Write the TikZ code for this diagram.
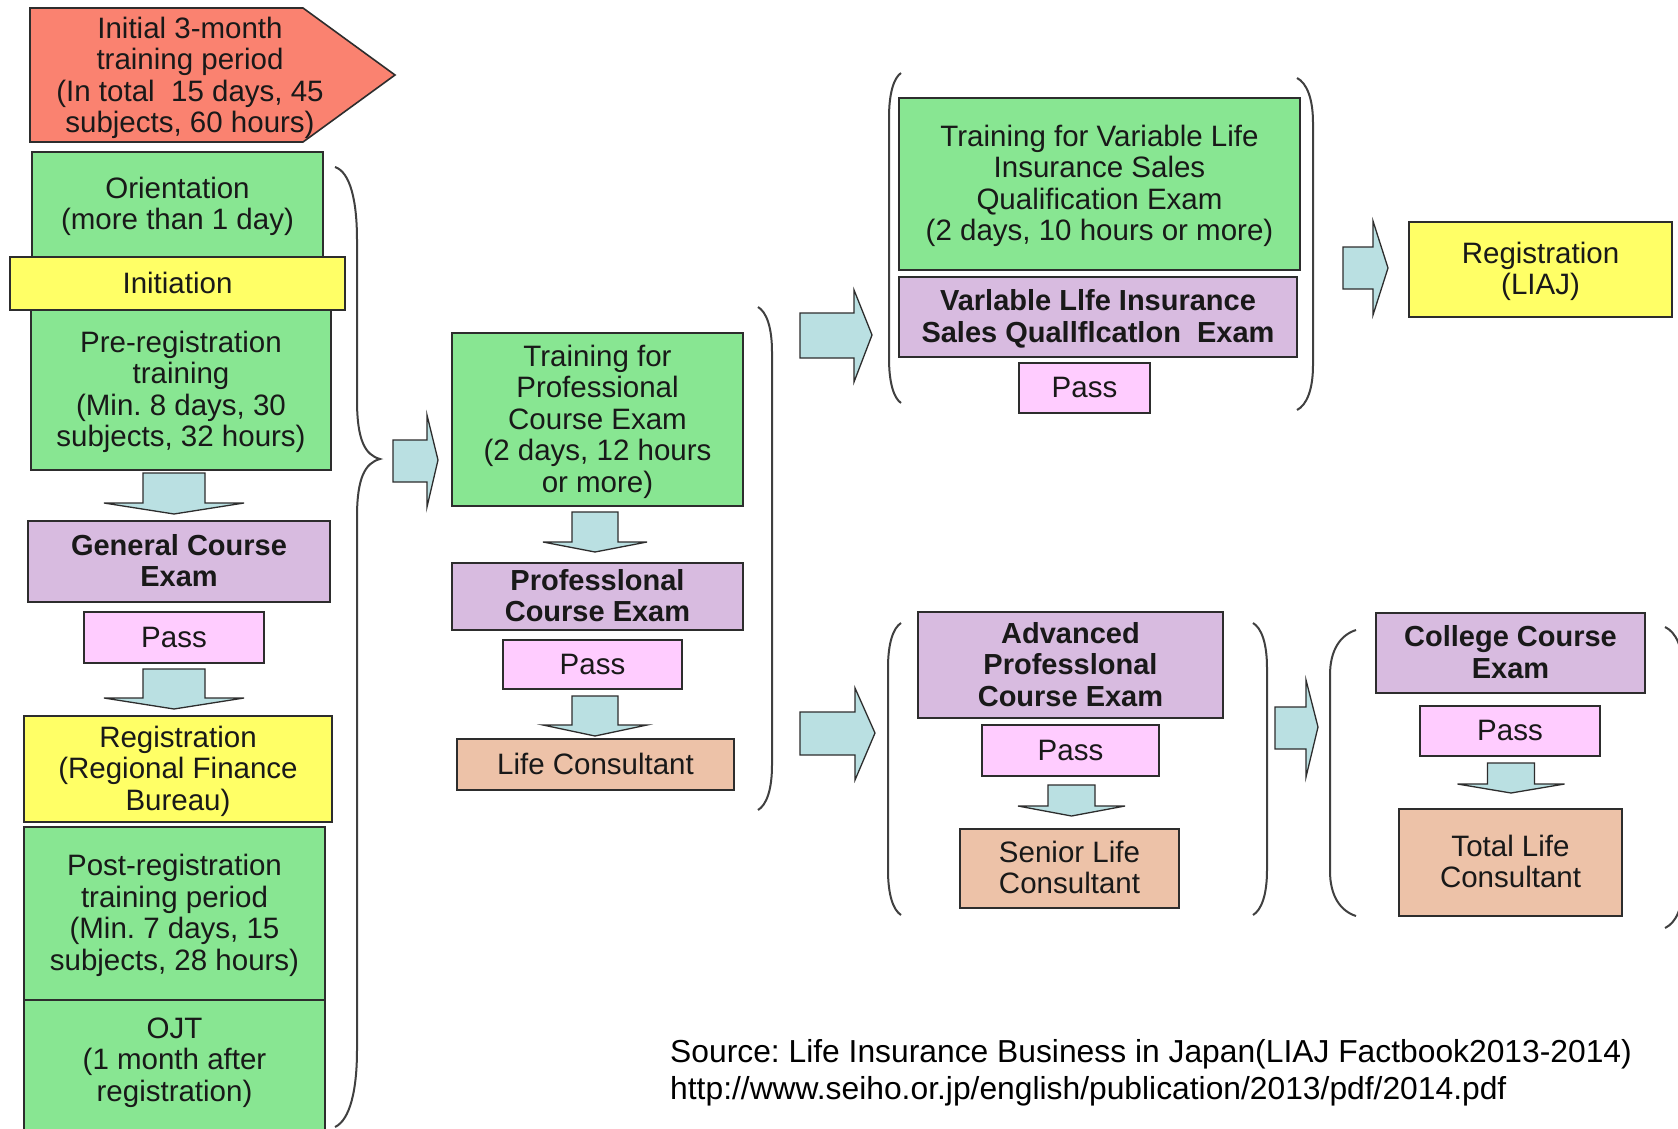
\documentclass[tikz,border=0pt]{standalone}
\usepackage{fontspec}
\setmainfont{Liberation Sans}
\frenchspacing
\definecolor{cred}{RGB}{250,130,112}
\definecolor{cgreen}{RGB}{136,230,146}
\definecolor{cyellow}{RGB}{255,255,102}
\definecolor{cpurple}{RGB}{216,187,224}
\definecolor{cpink}{RGB}{255,204,255}
\definecolor{cpeach}{RGB}{237,194,168}
\definecolor{ccyan}{RGB}{186,224,226}
\definecolor{cline}{RGB}{45,45,45}
\definecolor{ctext}{RGB}{25,25,25}
\newcommand\txs[1]{\rule{0pt}{0.9em}#1\rule[-0.24em]{0pt}{0pt}}
\newcommand\mybox[7]{%
  \node[#2, minimum width={(#5)-(#3)}, minimum height={(#6)-(#4)}] (#1) at ({((#3)+(#5))/2},{((#4)+(#6))/2}) {\txs{#7}};}
\newcommand\darr[6]{% cx, top, shaft half, head y, wing half, tip y
  \draw[blk] ({#1-#3},#2) -- ({#1+#3},#2) -- ({#1+#3},#4) -- ({#1+#5},#4) -- (#1,#6) -- ({#1-#5},#4) -- ({#1-#3},#4) -- cycle;}
\newcommand\rarr[8]{% shaft x1, x2, shaft y1, y2, head top, head bottom, tip x, tip y
  \draw[blk] (#1,#3) -- (#2,#3) -- (#2,#5) -- (#7,#8) -- (#2,#6) -- (#2,#4) -- (#1,#4) -- cycle;}
\newcommand\myparen[4]{% x end, x extreme, y top, y bottom
  \draw[br] (#1,#3) .. controls ({0.4*(#1)+0.6*(#2)},{#3+5}) and (#2,{#3+20}) .. (#2,{#3+45})
    -- (#2,{#4-45}) .. controls (#2,{#4-20}) and ({0.4*(#1)+0.6*(#2)},{#4-5}) .. (#1,#4);}
\begin{document}
\begin{tikzpicture}[x=1pt,y=-1pt,
  txt/.style={inner sep=0pt, align=center, font=\fontsize{29.5}{31.5}\selectfont, text=ctext},
  box/.style={txt, draw=cline, line width=1.6pt, rectangle},
  gbox/.style={box, fill=cgreen},
  ybox/.style={box, fill=cyellow},
  pbox/.style={box, fill=cpurple, font=\fontsize{29}{31.5}\selectfont\bfseries},
  kbox/.style={box, fill=cpink},
  obox/.style={box, fill=cpeach},
  blk/.style={fill=ccyan, draw=cline, line width=1.3pt, line join=miter},
  br/.style={draw=black!75, line width=2pt},
  srcfont/.style={inner sep=0pt, anchor=base west, font=\fontsize{31.8}{37}\selectfont, text=black}
]
\useasboundingbox (0,0) rectangle (1678,1129);
\fill[white] (0,0) rectangle (1678,1129);

% initial training period pentagon
\draw[fill=cred, draw=cline, line width=1.6pt] (30,8) -- (303,8) -- (395,75) -- (303,142) -- (30,142) -- cycle;
\node[txt] (init) at (190,76) {\txs{Initial 3-month\\training period\\(In total~ 15 days, 45\\subjects, 60 hours)}};

% left column
\mybox{orient}{gbox}{32}{152}{323}{257}{Orientation\\(more than 1 day)}
\mybox{prereg}{gbox}{31}{310}{331}{470}{Pre-registration\\training\\(Min. 8 days, 30\\subjects, 32 hours)}
\mybox{initiation}{ybox}{10}{257}{345}{310}{Initiation}
\darr{174}{473}{31}{503}{70}{514}
\mybox{gce}{pbox}{28}{521}{330}{602}{General Course\\Exam}
\mybox{pass1}{kbox}{84}{612}{264}{663}{Pass}
\darr{174}{669}{31}{698}{70}{709}
\mybox{reg1}{ybox}{24}{716}{332}{822}{Registration\\(Regional Finance\\Bureau)}
\mybox{post}{gbox}{24}{827}{325}{1000}{Post-registration\\training period\\(Min. 7 days, 15\\subjects, 28 hours)}
\draw[fill=cgreen, draw=cline, line width=1.6pt] (24,1000) rectangle (325,1150);
\node[txt] (ojt) at (174.5,1060) {\txs{OJT\\(1 month after\\registration)}};

% left brace
\draw[br] (335,167) .. controls (350,172) and (357,200) .. (357,240) -- (357,400)
  .. controls (357,440) and (365,455) .. (380,459)
  .. controls (365,463) and (357,478) .. (357,517) -- (357,1050)
  .. controls (357,1090) and (350,1120) .. (335,1127);
\rarr{393}{427}{440}{482}{415}{507}{438}{460}

% middle column
\mybox{tpce}{gbox}{452}{333}{743}{506}{Training for\\Professional\\Course Exam\\(2 days, 12 hours\\or more)}
\darr{595}{512}{23}{542}{52}{552}
\mybox{pce}{pbox}{452}{563}{743}{630}{Professlonal\\Course Exam}
\mybox{pass2}{kbox}{503}{640}{682}{689}{Pass}
\darr{595}{696}{23}{725}{52}{736}
\mybox{lc}{obox}{457}{739}{734}{790}{Life Consultant}
\myparen{758}{772}{307}{810}

% arrows out of the middle
\rarr{800}{854}{313}{358}{290}{382}{872}{335}
\rarr{800}{855}{712}{755}{688}{780}{875}{733}

% upper right group
\myparen{901}{889}{73}{403}
\mybox{tvl}{gbox}{899}{98}{1300}{270}{Training for Variable Life\\Insurance Sales\\Qualification Exam\\(2 days, 10 hours or more)}
\mybox{vle}{pbox}{899}{277}{1297}{357}{Varlable Llfe Insurance\\Sales Quallflcatlon~ Exam}
\mybox{pass3}{kbox}{1019}{363}{1150}{413}{Pass}
\myparen{1297}{1313}{78}{410}
\rarr{1343}{1373}{247}{289}{221}{315}{1388}{268}
\mybox{liaj}{ybox}{1409}{222}{1672}{317}{Registration\\(LIAJ)}

% lower right groups
\myparen{901}{888}{623}{915}
\mybox{ape}{pbox}{918}{612}{1223}{718}{Advanced\\Professlonal\\Course Exam}
\mybox{pass4}{kbox}{982}{725}{1159}{776}{Pass}
\darr{1071.5}{785}{23.5}{806}{53.5}{816}
\mybox{slc}{obox}{960}{829}{1179}{908}{Senior Life\\Consultant}
\myparen{1253}{1267}{623}{915}
\rarr{1275}{1306}{707}{749}{680}{777}{1318}{727}
\myparen{1356}{1330}{630}{916}
\mybox{cce}{pbox}{1376}{613}{1645}{693}{College Course\\Exam}
\mybox{pass5}{kbox}{1420}{706}{1600}{756}{Pass}
\darr{1511}{763}{23.5}{784}{53.5}{793}
\mybox{tlc}{obox}{1399}{809}{1622}{916}{Total Life\\Consultant}
\myparen{1665}{1683}{627}{928}

% source
\node[srcfont] (src1) at (670,1062) {Source: Life Insurance Business in Japan(LIAJ Factbook2013-2014)};
\node[srcfont] (src2) at (670,1099) {http://www.seiho.or.jp/english/publication/2013/pdf/2014.pdf};
\end{tikzpicture}
\end{document}
